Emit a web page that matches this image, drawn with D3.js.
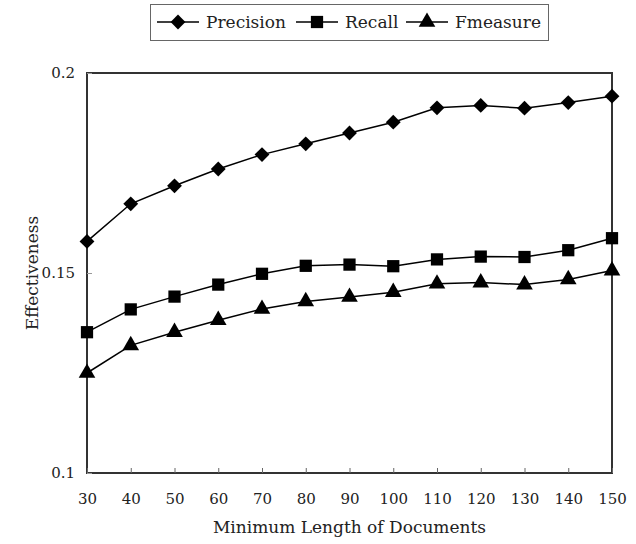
<!DOCTYPE html>
<html>
<head>
    <meta charset="UTF-8">
    <title>Effectiveness vs Minimum Length</title>
    <script src="https://cdn.jsdelivr.net/npm/d3@7"></script>
    <style>
        body { margin: 0; background: #fff; }
        text { font-family: "DejaVu Serif", "Liberation Serif", serif; fill: #222; }
    </style>
</head>
<body>
<svg id="chart" width="636" height="544"></svg>
<script>
// values
const lengths = [30, 40, 50, 60, 70, 80, 90, 100, 110, 120, 130, 140, 150];
const precision = [0.1579, 0.1673, 0.1718, 0.1760, 0.1796, 0.1823, 0.1850, 0.1877, 0.1913, 0.1919, 0.1912, 0.1926, 0.1942];
const recall = [0.1352, 0.1409, 0.1441, 0.1471, 0.1498, 0.1518, 0.1521, 0.1517, 0.1534, 0.1541, 0.1540, 0.1557, 0.1587];
const fmeasure = [0.1250, 0.1319, 0.1352, 0.1382, 0.1410, 0.1429, 0.1440, 0.1452, 0.1473, 0.1476, 0.1471, 0.1484, 0.1506];
const yTicks = [0.1, 0.15, 0.2];

// diamond = square turned 45 degrees
const diamond = {
    draw(ctx, size) {
        const r = Math.sqrt(size / 2);
        ctx.moveTo(0, -r); ctx.lineTo(r, 0); ctx.lineTo(0, r); ctx.lineTo(-r, 0); ctx.closePath();
    }
};

const series = [
    {name: "Precision", values: precision, symbol: diamond, size: 110},
    {name: "Recall", values: recall, symbol: d3.symbolSquare, size: 150},
    {name: "Fmeasure", values: fmeasure, symbol: d3.symbolTriangle, size: 120}
];

const margin = {top: 73, right: 24, bottom: 71, left: 87};
const width = 636, height = 544;
const svg = d3.select("#chart");

const x = d3.scaleLinear().domain([30, 150]).range([margin.left, width - margin.right]);
const y = d3.scaleLinear().domain([0.1, 0.2]).range([height - margin.bottom, margin.top]);

// frame
svg.append("rect")
    .attr("x", x(30)).attr("y", y(0.2))
    .attr("width", x(150) - x(30)).attr("height", y(0.1) - y(0.2))
    .attr("fill", "none").attr("stroke", "#333").attr("stroke-width", 2);

// x axis, ticks inside
const xAxis = svg.append("g")
    .attr("transform", `translate(0,${y(0.1)})`)
    .call(d3.axisBottom(x).tickValues(lengths).tickSize(-5).tickPadding(20).tickFormat(d3.format("d")));
xAxis.select(".domain").remove();
xAxis.selectAll(".tick line").attr("stroke", "#666");
xAxis.selectAll("text").style("font-size", "15px");

const yAxis = svg.append("g")
    .attr("transform", `translate(${x(30)},0)`)
    .call(d3.axisLeft(y).tickValues(yTicks).tickSize(-5).tickPadding(12).tickFormat(d => d === 0.1 || d === 0.2 ? d.toFixed(1) : d.toFixed(2)));
yAxis.select(".domain").remove();
yAxis.selectAll(".tick line").attr("stroke", "#999");
yAxis.selectAll("text").style("font-size", "15px");

// axis titles
svg.append("text")
    .attr("x", (x(30) + x(150)) / 2).attr("y", 533)
    .attr("text-anchor", "middle").style("font-size", "17px")
    .text("Minimum Length of Documents");
svg.append("text")
    .attr("transform", `translate(38,${(y(0.1) + y(0.2)) / 2}) rotate(-90)`)
    .attr("text-anchor", "middle").style("font-size", "17px")
    .text("Effectiveness");

// lines and markers
const line = d3.line().x((d, i) => x(lengths[i])).y(d => y(d));
series.forEach(s => {
    svg.append("path")
        .datum(s.values)
        .attr("fill", "none").attr("stroke", "#000").attr("stroke-width", 1.5)
        .attr("d", line);
    svg.selectAll(null)
        .data(s.values)
        .join("path")
        .attr("transform", (d, i) => `translate(${x(lengths[i])},${y(d)})`)
        .attr("d", d3.symbol().type(s.symbol).size(s.size))
        .attr("fill", "#000");
});

// legend
const legend = svg.append("g");
legend.append("rect")
    .attr("x", 150.5).attr("y", 4.5).attr("width", 398).attr("height", 36)
    .attr("fill", "#fff").attr("stroke", "#666").attr("stroke-width", 1);
const legendX = [157, 296, 406];
series.forEach((s, i) => {
    const g = legend.append("g").attr("transform", `translate(${legendX[i]},22)`);
    g.append("line").attr("x1", 0).attr("x2", 42).attr("stroke", "#000").attr("stroke-width", 1.5);
    g.append("path").attr("transform", "translate(21,0)")
        .attr("d", d3.symbol().type(s.symbol).size(s.size)).attr("fill", "#000");
    g.append("text").attr("x", 49).attr("y", 6).style("font-size", "17px").text(s.name);
});
</script>
</body>
</html>
